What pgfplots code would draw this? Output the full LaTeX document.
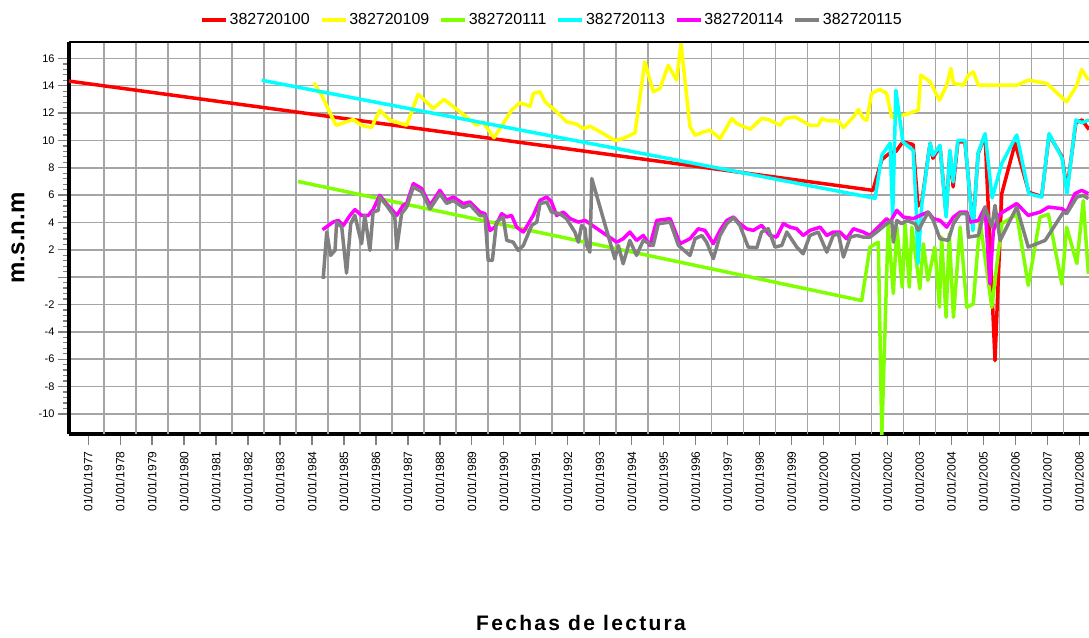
\documentclass[border=0pt]{standalone}
\usepackage{fontspec}
\setmainfont{Liberation Sans}
\usepackage{pgfplots}
\pgfplotsset{compat=1.18}
\definecolor{cRed}{RGB}{255,0,0}
\definecolor{cYel}{RGB}{255,255,0}
\definecolor{cGrn}{RGB}{128,255,0}
\definecolor{cCyn}{RGB}{0,255,255}
\definecolor{cMag}{RGB}{255,0,255}
\definecolor{cGry}{RGB}{128,128,128}
\definecolor{gridc}{RGB}{165,165,165}

\pgfplotstableread{
x y
1976.40 14.34
2001.54 6.35
2001.82 8.6
2002.08 9.1
2002.26 9.2
2002.48 9.9
2002.80 9.7
2002.95 5.2
2003.07 5.5
2003.33 9.8
2003.42 8.7
2003.64 9.6
2003.83 4.6
2003.95 9.2
2004.05 6.6
2004.20 9.9
2004.42 9.9
2004.67 3.6
2004.83 9.0
2005.05 10.4
2005.36 -6.1
2005.57 6.1
2005.99 9.8
2006.42 6.2
2006.82 5.9
2007.05 10.4
2007.46 8.8
2007.61 6.4
2007.89 11.3
2008.08 11.5
2008.30 10.8
}\tRed

\pgfplotstableread{
x y
1984.06 14.22
1984.30 13.31
1984.75 11.11
1985.29 11.53
1985.55 11.11
1985.86 10.94
1986.12 12.21
1986.44 11.48
1986.96 11.11
1987.32 13.38
1987.79 12.34
1988.13 13.0
1988.63 12.09
1989.15 11.11
1989.34 11.36
1989.69 10.2
1989.98 11.24
1990.24 12.21
1990.50 12.75
1990.82 12.5
1990.92 13.44
1991.13 13.56
1991.29 12.82
1991.65 12.09
1991.96 11.36
1992.28 11.19
1992.48 10.87
1992.69 11.04
1993.11 10.5
1993.47 10.0
1993.73 10.14
1994.10 10.55
1994.41 15.75
1994.67 13.56
1994.88 13.8
1995.14 15.5
1995.40 14.41
1995.54 17.1
1995.82 11.0
1995.98 10.38
1996.24 10.62
1996.45 10.75
1996.76 10.14
1997.13 11.6
1997.28 11.24
1997.70 10.82
1998.06 11.6
1998.27 11.53
1998.64 11.11
1998.79 11.6
1999.11 11.72
1999.57 11.11
1999.83 11.11
1999.94 11.6
2000.15 11.43
2000.46 11.43
2000.62 10.94
2000.93 11.72
2001.09 12.26
2001.24 11.6
2001.35 11.48
2001.50 13.44
2001.76 13.73
2001.97 13.44
2002.13 11.68
2002.49 11.85
2002.96 12.21
2003.04 14.78
2003.33 14.29
2003.62 12.94
2003.85 14.04
2003.98 15.27
2004.06 14.17
2004.37 14.04
2004.53 14.78
2004.68 15.02
2004.84 14.04
2006.04 14.04
2006.40 14.41
2006.98 14.17
2007.60 12.82
2007.92 14.04
2008.07 15.19
2008.28 14.41
}\tYel

\pgfplotstableread{
x y
1983.56 7.0
2001.19 -1.71
2001.45 2.2
2001.71 2.56
2001.82 -11.6
2002.02 3.9
2002.18 -1.2
2002.29 3.66
2002.46 -0.73
2002.55 3.9
2002.68 -0.73
2002.76 3.66
2003.01 -0.85
2003.12 2.45
2003.26 -0.24
2003.48 2.2
2003.62 -2.2
2003.69 2.93
2003.83 -2.93
2003.93 3.18
2004.06 -2.93
2004.27 3.66
2004.48 -2.2
2004.68 -1.95
2004.89 4.15
2005.26 -2.2
2005.57 3.9
2006.04 4.6
2006.40 -0.6
2006.77 4.4
2007.03 4.6
2007.45 -0.5
2007.60 3.66
2007.92 1.0
2008.12 5.6
2008.28 0.25
}\tGrn

\pgfplotstableread{
x y
1982.43 14.40
2001.61 5.77
2001.82 8.92
2002.08 9.80
2002.16 4.40
2002.26 13.67
2002.48 9.89
2002.80 9.28
2002.89 5.4
2002.95 1.0
2003.07 5.3
2003.33 9.80
2003.42 8.9
2003.64 9.65
2003.83 4.4
2003.95 9.28
2004.05 6.96
2004.20 10.0
2004.42 10.0
2004.67 3.4
2004.83 9.06
2005.05 10.5
2005.27 5.8
2005.57 8.3
2006.04 10.4
2006.42 6.1
2006.82 5.86
2007.05 10.5
2007.46 8.7
2007.61 6.1
2007.89 11.5
2008.08 11.3
2008.30 11.5
}\tCyn

\pgfplotstableread{
x y
1984.33 3.47
1984.66 4.03
1984.82 4.15
1984.98 3.79
1985.19 4.52
1985.34 4.94
1985.55 4.52
1985.76 4.52
1985.91 4.94
1986.12 5.99
1986.28 5.5
1986.65 4.52
1986.85 5.25
1986.96 5.38
1987.17 6.84
1987.43 6.48
1987.69 5.25
1988.00 6.35
1988.21 5.62
1988.42 5.86
1988.73 5.38
1988.94 5.5
1989.25 4.76
1989.41 4.64
1989.57 3.42
1989.72 3.66
1989.93 4.64
1990.09 4.40
1990.24 4.52
1990.40 3.66
1990.61 3.3
1990.92 4.52
1991.13 5.62
1991.34 5.86
1991.49 5.5
1991.65 4.52
1991.86 4.76
1992.07 4.28
1992.33 4.03
1992.54 4.15
1993.53 2.56
1993.73 2.81
1993.94 3.3
1994.15 2.69
1994.36 3.05
1994.57 2.32
1994.78 4.15
1995.20 4.28
1995.51 2.45
1995.82 2.81
1996.08 3.54
1996.29 3.42
1996.55 2.45
1996.76 3.42
1996.97 4.15
1997.18 4.4
1997.38 3.91
1997.59 3.54
1997.80 3.42
1998.06 3.79
1998.32 3.05
1998.53 2.93
1998.74 3.91
1998.95 3.66
1999.16 3.54
1999.36 3.05
1999.57 3.42
1999.89 3.66
2000.10 3.05
2000.30 3.3
2000.51 3.3
2000.72 2.81
2000.93 3.54
2001.24 3.3
2001.45 3.05
2001.66 3.54
2001.97 4.28
2002.08 4.03
2002.29 4.89
2002.49 4.4
2002.81 4.28
2003.02 4.52
2003.27 4.76
2003.43 4.28
2003.64 4.15
2003.85 3.66
2004.06 4.4
2004.27 4.76
2004.48 4.76
2004.58 4.03
2004.84 4.15
2005.05 5.13
2005.20 -0.48
2005.31 3.42
2005.52 4.64
2006.04 5.38
2006.40 4.52
2006.77 4.76
2007.03 5.13
2007.45 5.01
2007.60 4.76
2007.86 6.11
2008.07 6.35
2008.28 6.11
}\tMag

\pgfplotstableread{
x y
1984.35 -0.12
1984.46 3.3
1984.58 1.59
1984.72 1.96
1984.77 4.03
1984.93 3.66
1985.08 0.3
1985.21 3.91
1985.34 4.52
1985.55 2.45
1985.65 4.52
1985.81 1.96
1985.91 4.76
1986.07 4.89
1986.12 5.86
1986.33 5.25
1986.59 4.40
1986.65 2.08
1986.80 4.64
1986.96 5.13
1987.17 6.59
1987.43 6.25
1987.69 5.0
1988.00 6.1
1988.21 5.4
1988.42 5.6
1988.73 5.1
1988.94 5.3
1989.25 4.5
1989.41 4.5
1989.51 1.22
1989.64 1.22
1989.77 4.03
1989.98 4.4
1990.09 2.69
1990.29 2.56
1990.45 1.96
1990.61 2.32
1990.87 3.79
1991.03 4.03
1991.13 5.38
1991.34 5.5
1991.49 4.76
1991.75 4.64
1991.96 4.28
1992.22 3.3
1992.33 2.56
1992.43 3.79
1992.54 3.54
1992.59 2.32
1992.69 1.83
1992.75 7.21
1993.47 1.35
1993.58 2.32
1993.73 0.98
1993.94 2.69
1994.15 1.59
1994.36 2.69
1994.67 2.32
1994.83 3.91
1995.20 4.03
1995.46 2.32
1995.82 1.59
1995.98 2.81
1996.19 3.05
1996.34 2.56
1996.55 1.35
1996.76 3.05
1996.97 3.91
1997.18 4.35
1997.38 3.79
1997.64 2.2
1997.91 2.15
1998.06 3.3
1998.27 3.54
1998.48 2.2
1998.69 2.32
1998.85 3.3
1999.16 2.2
1999.36 1.71
1999.57 3.05
1999.83 3.3
2000.10 1.83
2000.30 3.05
2000.46 3.18
2000.62 1.47
2000.83 2.93
2001.04 3.05
2001.24 2.93
2001.45 2.93
2001.66 3.3
2001.97 3.91
2002.13 4.15
2002.18 2.56
2002.29 4.15
2002.44 3.91
2002.60 4.15
2002.86 3.91
2002.96 3.42
2003.27 4.76
2003.43 4.15
2003.64 2.81
2003.90 2.69
2004.06 3.91
2004.27 4.64
2004.48 4.64
2004.53 2.93
2004.84 3.05
2005.05 5.13
2005.26 3.66
2005.36 5.25
2005.52 2.69
2006.04 5.13
2006.40 2.2
2006.93 2.69
2007.50 4.76
2007.60 4.64
2007.92 5.86
2008.12 5.98
2008.28 5.74
}\tGry

\begin{document}
\begin{tikzpicture}
\path[use as bounding box] (0,0) rectangle (1089pt,637pt);
\begin{axis}[
  name=ax,
  at={(69pt,203pt)}, anchor=south west,
  scale only axis, width=1020pt, height=392pt,
  xmin=1976.40, xmax=2008.30, ymin=-11.47, ymax=17.2,
  axis lines*=left,
  axis line style={line width=3.5pt, black, -},
  tick align=outside,
  major tick length=11pt, minor tick length=6pt,
  tick style={line width=1.3pt, color=cGry},
  ytick={-10,-8,...,16},
  yticklabels={-10,-8,-6,-4,-2,,2,4,6,8,10,12,14,16},
  minor y tick num=4,
  xtick={1977,...,2008},
  xticklabels={01/01/1977,01/01/1978,01/01/1979,01/01/1980,01/01/1981,01/01/1982,01/01/1983,01/01/1984,01/01/1985,01/01/1986,01/01/1987,01/01/1988,01/01/1989,01/01/1990,01/01/1991,01/01/1992,01/01/1993,01/01/1994,01/01/1995,01/01/1996,01/01/1997,01/01/1998,01/01/1999,01/01/2000,01/01/2001,01/01/2002,01/01/2003,01/01/2004,01/01/2005,01/01/2006,01/01/2007,01/01/2008},
  minor x tick num=7,
  extra x ticks={1977.5,1978.5,...,2007.5},
  extra x tick labels={},
  extra x tick style={grid=major, major tick length=0pt},
  ymajorgrids,
  grid style={line width=1.5pt, color=gridc},
  yticklabel style={font=\fontsize{11}{13}\selectfont},
  xticklabel style={rotate=90, anchor=east, xshift=-3pt, font=\fontsize{12}{14}\selectfont},
  ylabel={m.s.n.m},
  ylabel style={at={(rel axis cs:0,0.5)}, anchor=center, yshift=51pt, font=\fontsize{24}{28}\selectfont\bfseries},
  xlabel={Fechas de lectura},
  xlabel style={at={(rel axis cs:0.502,0)}, anchor=center, yshift=-189pt, font=\fontsize{21}{24}\selectfont\bfseries\addfontfeatures{LetterSpace=11}},
  legend columns=-1,
  legend style={draw=none, fill=none, at={(rel axis cs:0.4735,1)}, anchor=center, yshift=22pt,
    font=\fontsize{16}{18}\selectfont,
    /tikz/every even column/.append style={column sep=8pt}},
  legend image code/.code={\draw[#1] (0pt,0pt) -- (24pt,0pt);},
  no markers,
  every axis plot/.append style={line width=3.5pt, line join=round},
]
\addplot[cRed] table {\tRed};
\addlegendentry{382720100}
\addplot[cYel] table {\tYel};
\addlegendentry{382720109}
\addplot[cGrn] table {\tGrn};
\addlegendentry{382720111}
\addplot[cCyn] table {\tCyn};
\addlegendentry{382720113}
\addplot[cMag] table {\tMag};
\addlegendentry{382720114}
\addplot[cGry] table {\tGry};
\addlegendentry{382720115}
\end{axis}
\draw[line width=2.5pt] (ax.north west) -- (ax.north east);
\end{tikzpicture}
\end{document}
